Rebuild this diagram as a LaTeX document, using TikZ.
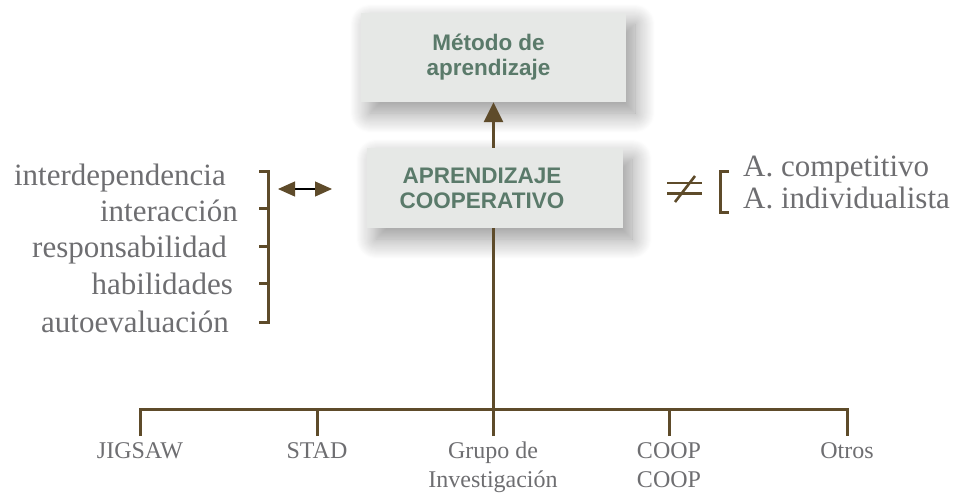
\documentclass[tikz,border=0pt]{standalone}
\usepackage{fontspec}
\setmainfont{Liberation Serif}
\newfontfamily\boxfont{Liberation Sans}
\usetikzlibrary{shadows.blur,arrows.meta}
\definecolor{brn}{HTML}{5E4B2A}
\definecolor{txtgray}{HTML}{6E6E71}
\definecolor{boxfill}{HTML}{E6E8E6}
\definecolor{boxtext}{HTML}{5A7A6A}
\begin{document}
\begin{tikzpicture}[x=1pt,y=-1pt,
  greybox/.style={fill=boxfill, draw=none, inner sep=0pt, align=center,
    blur shadow={shadow xshift=9pt, shadow yshift=-11pt, shadow blur radius=20pt, shadow blur steps=20, shadow opacity=42},
    font=\boxfont\bfseries\fontsize{22.5}{25}\selectfont, text=boxtext},
  conn/.style={draw=brn, line width=3pt, line join=miter},
  lefttxt/.style={font=\fontsize{31}{35}\selectfont, text=txtgray, anchor=base east, inner sep=0pt},
  righttxt/.style={font=\fontsize{31}{33}\selectfont, text=txtgray, anchor=base west, inner sep=0pt},
  lbl/.style={font=\fontsize{24}{29}\selectfont, text=txtgray, anchor=north, align=center, inner sep=0pt}
]
\useasboundingbox (0,0) rectangle (953,493);
% boxes
\node[greybox, minimum width=265pt, minimum height=89pt] (metodo) at (493.5,57.5) {Método de\hspace*{10pt}\\aprendizaje\hspace*{10pt}};
\node[greybox, minimum width=256pt, minimum height=80pt] (coop) at (495,188) {APRENDIZAJE\hspace*{26pt}\\COOPERATIVO\hspace*{26pt}};
\draw[conn, -{Triangle[width=19pt,length=20pt]}] (coop.north -| metodo.south) -- (metodo.south);
% bottom tree
\coordinate (bar) at (493,409);
\node[lbl] (jig) at (140,442) {JIGSAW};
\node[lbl] (stad) at (317,442) {STAD};
\node[lbl] (grupo) at (493,442) {Grupo de\\Investigación};
\node[lbl] (cc) at (669,442) {COOP\\COOP};
\node[lbl] (otros) at (847,442) {Otros};
\draw[conn] (coop.south -| bar) -- (bar);
\draw[conn] ([yshift=6pt]jig.north) -- ++(0,-27) -| ([yshift=6pt]otros.north);
\draw[conn] ([yshift=6pt]stad.north) -- (stad.north |- bar);
\draw[conn] ([yshift=6pt]grupo.north) -- (grupo.north |- bar);
\draw[conn] ([yshift=6pt]cc.north) -- (cc.north |- bar);
% left list
\node[lefttxt] (l1) at (226,185) {interdependencia};
\node[lefttxt] (l2) at (238,221) {interacción};
\node[lefttxt] (l3) at (227,257) {responsabilidad};
\node[lefttxt] (l4) at (233,294) {habilidades};
\node[lefttxt] (l5) at (229,332) {autoevaluación};
\draw[conn] (259,171.5) -- (268,171.5) -- (268,322) -- (259,322);
\draw[conn] (259,208) -- (268,208);
\draw[conn] (259,246.5) -- (268,246.5);
\draw[conn] (259,283.5) -- (268,283.5);
% double arrow
\coordinate (da1) at (278,189);
\coordinate (da2) at (332,189);
\draw[black, line width=1.2pt, {Triangle[width=15pt,length=17pt,color=brn]}-{Triangle[width=15pt,length=17pt,color=brn]}] (da1) -- (da2);
% not equal
\draw[conn, line width=2.6pt] (667,183) -- (702,183);
\draw[conn, line width=2.6pt] (667,193.5) -- (702,193.5);
\draw[conn, line width=2.6pt] (675,202) -- (695,176);
% right bracket and texts
\draw[conn] (729,171) -- (720,171) -- (720,212) -- (729,212);
\node[righttxt] (r1) at (743,176) {A. competitivo};
\node[righttxt] (r2) at (743,208) {A. individualista};
\end{tikzpicture}
\end{document}
